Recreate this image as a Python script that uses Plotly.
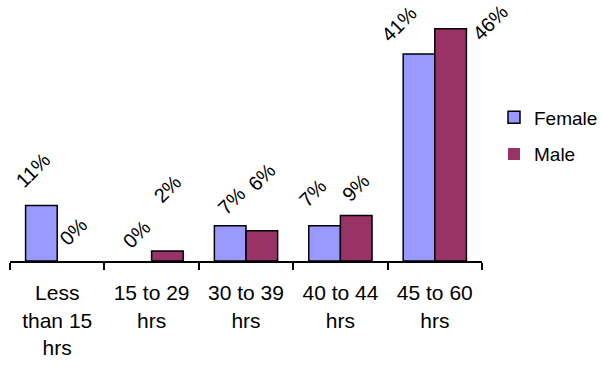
import plotly.graph_objects as go

# Weekly hours worked, share of respondents by gender (%)
categories = ["Less<br>than 15<br>hrs", "15 to 29<br>hrs", "30 to 39<br>hrs",
              "40 to 44<br>hrs", "45 to 60<br>hrs"]
female = [11, 0, 7, 7, 41]
male = [0, 2, 6, 9, 46]

# Pixel nudges (dx, dy) for each rotated value label, measured from the bar top centre
female_label_nudge = [(-8, 35), (1, 27), (1, 25), (-12, 33), (-20, 30)]
male_label_nudge = [(0, 29), (0, 62), (0, 54), (-1, 28), (39, 6)]

FONT = "Liberation Sans, Arial, sans-serif"
BARGAP = 0.33
bar_w = (1 - BARGAP) / 2


def outline_widths(values):
    # empty bars get no outline so nothing is drawn on the axis
    return [1.5 if v > 0 else 0 for v in values]


fig = go.Figure()
fig.add_trace(go.Bar(
    name="Female", x=categories, y=female,
    marker=dict(color="#9999FF", line=dict(color="black", width=outline_widths(female))),
    legendgroup="f",
))
fig.add_trace(go.Bar(
    name="Male", x=categories, y=male,
    marker=dict(color="#993366", line=dict(color="black", width=outline_widths(male))),
    legendgroup="m",
))

annotations = []
for series, nudges, side in ((female, female_label_nudge, -1), (male, male_label_nudge, 1)):
    for i, (v, (dx, dy)) in enumerate(zip(series, nudges)):
        annotations.append(dict(
            x=i + side * bar_w / 2, y=v, xref="x", yref="y",
            text=f"{v}%", showarrow=False, textangle=-45,
            xanchor="center", yanchor="middle",
            xshift=dx, yshift=dy,
            font=dict(family=FONT, size=20, color="black"),
        ))

fig.update_layout(
    width=602, height=367,
    margin=dict(l=10, r=120, t=10, b=106, autoexpand=False),
    paper_bgcolor="white", plot_bgcolor="white",
    barmode="group", bargap=BARGAP, bargroupgap=0,
    font=dict(family=FONT, size=20, color="black"),
    showlegend=True,
    legend=dict(
        xref="container", yref="container",
        x=0.8206, y=0.6294, xanchor="left", yanchor="middle",
        traceorder="grouped", tracegroupgap=9,
        font=dict(family=FONT, size=19, color="black"),
        bgcolor="rgba(0,0,0,0)",
    ),
    annotations=annotations,
)
fig.update_xaxes(
    range=[-0.5, 4.5], showline=True, linecolor="black", linewidth=2,
    ticks="outside", tickson="boundaries", ticklen=7, tickwidth=2, tickcolor="black",
    tickfont=dict(family=FONT, size=21, color="black"), ticklabelstandoff=12,
    showgrid=False, zeroline=False, fixedrange=True,
)
fig.update_yaxes(
    range=[0, 49.7], visible=False, showgrid=False, zeroline=False, fixedrange=True,
)

fig.write_html("out.html", config={"displayModeBar": False})
